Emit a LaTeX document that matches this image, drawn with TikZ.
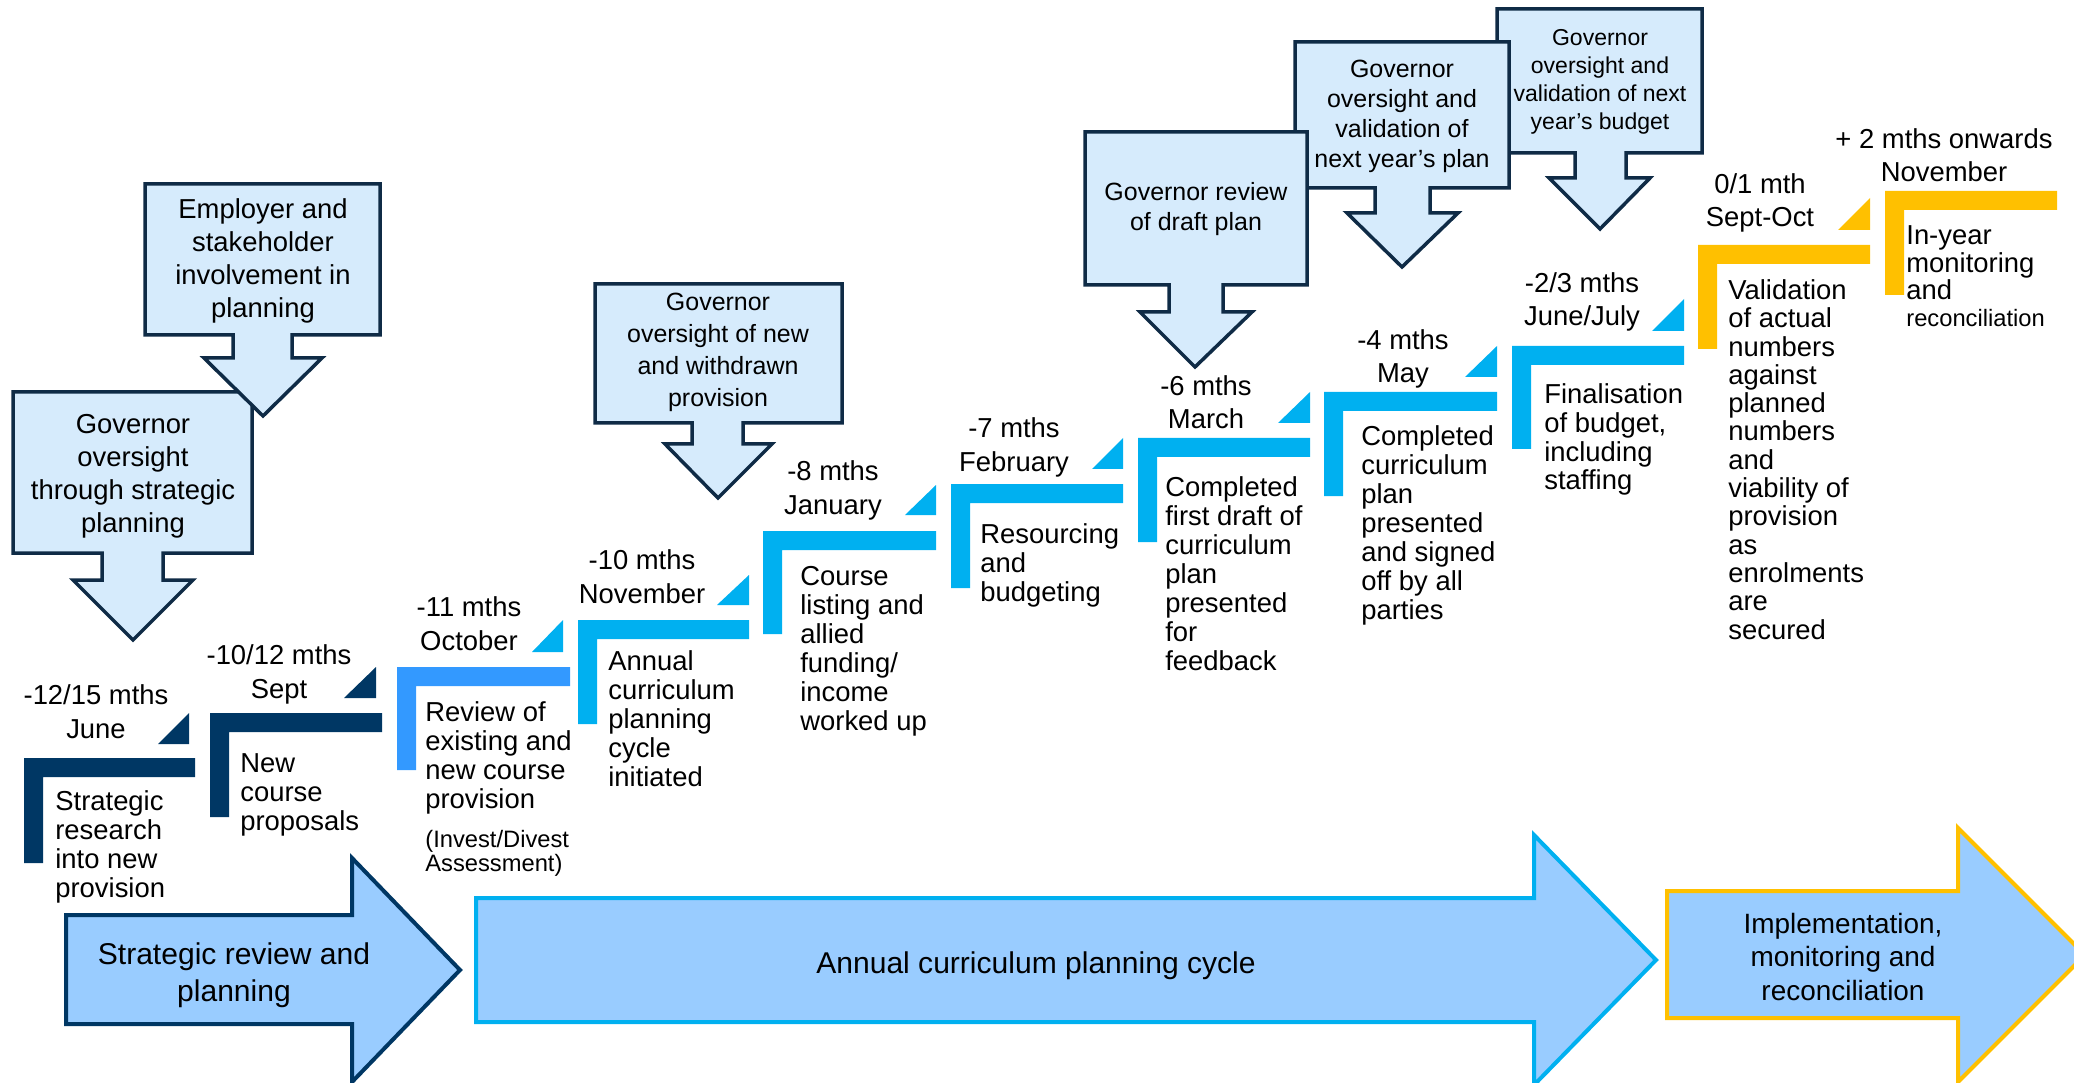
\documentclass[tikz,border=0pt]{standalone}
\usepackage{fontspec}
\setmainfont{Liberation Sans}
\definecolor{navy}{HTML}{003764}
\definecolor{boxline}{HTML}{0F2B46}
\definecolor{boxfill}{HTML}{D6EBFC}
\definecolor{arrowfill}{HTML}{99CCFF}
\definecolor{stepcyan}{HTML}{00B0F0}
\definecolor{stepblue}{HTML}{3399FF}
\definecolor{gold}{HTML}{FFC000}

\begin{document}
\begin{tikzpicture}[x=0.2mm,y=-0.2mm]
        \tikzstyle{govbox} = [fill=boxfill,draw=boxline,line width=0.7mm]
        \tikzstyle{govtext} = [align=center,font=\fontsize{15.6}{18.8}\selectfont]
        \tikzstyle{stage} = [fill=arrowfill,line width=0.8mm]
        \tikzstyle{stagetext} = [align=center,font=\fontsize{17.1}{21}\selectfont]
        % base = baseline of the last line
        \tikzstyle{month} = [align=center,anchor=base,inner sep=0pt,font=\fontsize{15.6}{18.8}\selectfont]
        \tikzstyle{task} = [align=left,anchor=base west,inner sep=0pt,font=\fontsize{15.6}{16.5}\selectfont]

        \useasboundingbox (0,0) rectangle (2074,1083);
        \clip (0,0) rectangle (2074,1083);

        % phases along the bottom
        \draw[stage,draw=navy] (66,915) -- (352,915) -- (352,858) -- (460,970) -- (352,1082) -- (352,1024) -- (66,1024) -- cycle;
        \draw[stage,draw=stepcyan] (476,898) -- (1534,898) -- (1534,835) -- (1656,960) -- (1534,1085) -- (1534,1022) -- (476,1022) -- cycle;
        \draw[stage,draw=gold] (1667,891) -- (1958,891) -- (1958,828) -- (2085,955) -- (1958,1082) -- (1958,1018) -- (1667,1018) -- cycle;

        \node[stagetext] (a1) at (234,975){Strategic review and\\planning};
        \node[stagetext] (a2) at (1036,966){Annual curriculum planning cycle};
        \node[stagetext,font=\fontsize{15.9}{19.3}\selectfont] (a3) at (1843,957){Implementation,\\monitoring and\\reconciliation};

        % governor call-outs
        \draw[govbox] (13,392) -- (252,392) -- (252,553) -- (163,553) -- (163,580) -- (193,580) -- (133,640) -- (73,580) -- (102,580) -- (102,553) -- (13,553) -- cycle;
        \draw[govbox] (145,184) -- (380,184) -- (380,335) -- (292,335) -- (292,358) -- (322,358) -- (263,416) -- (204,358) -- (233,358) -- (233,335) -- (145,335) -- cycle;
        \draw[govbox] (595,284) -- (842,284) -- (842,423) -- (743,423) -- (743,444) -- (772,444) -- (718,498) -- (665,444) -- (692,444) -- (692,423) -- (595,423) -- cycle;
        \draw[govbox] (1497,9) -- (1702,9) -- (1702,153) -- (1626,153) -- (1626,178) -- (1650,178) -- (1600,229) -- (1549,178) -- (1575,178) -- (1575,153) -- (1497,153) -- cycle;
        \draw[govbox] (1295,42) -- (1509,42) -- (1509,188) -- (1430,188) -- (1430,213) -- (1458,213) -- (1402,267) -- (1347,213) -- (1375,213) -- (1375,188) -- (1295,188) -- cycle;
        \draw[govbox] (1085,132) -- (1307,132) -- (1307,285) -- (1223,285) -- (1223,312) -- (1252,312) -- (1195,367) -- (1140,312) -- (1169,312) -- (1169,285) -- (1085,285) -- cycle;

        \node[govtext] (g1) at (133,476){Governor\\oversight\\through strategic\\planning};
        \node[govtext] (g2) at (263,261){Employer and\\stakeholder\\involvement in\\planning};
        \node[govtext,font=\fontsize{14.2}{18.2}\selectfont] (g3) at (718,352){Governor\\oversight of new\\and withdrawn\\provision};
        \node[govtext,font=\fontsize{13.1}{15.9}\selectfont] (g6) at (1600,82){Governor\\oversight and\\validation of next\\year’s budget};
        \node[govtext,font=\fontsize{14.2}{17.1}\selectfont] (g5) at (1402,116){Governor\\oversight and\\validation\ of\\next year’s plan};
        \node[govtext,font=\fontsize{14.2}{17.1}\selectfont] (g4) at (1196,209){Governor review\\of draft plan};

        % steps
        \fill[navy] (24,863) |- (195,758) |- (43,777) |- cycle;
        \fill[navy] (158,744) -- (189,744) -- (189,713) -- cycle;
        \fill[navy] (210,817) |- (382,713) |- (229,732) |- cycle;
        \fill[navy] (344,698) -- (376,698) -- (376,667) -- cycle;
        \fill[stepblue] (397,770) |- (570,667) |- (416,686) |- cycle;
        \fill[stepcyan] (532,652) -- (563,652) -- (563,620) -- cycle;
        \fill[stepcyan] (578,724) |- (749,620) |- (597,639) |- cycle;
        \fill[stepcyan] (717,605) -- (749,605) -- (749,575) -- cycle;
        \fill[stepcyan] (763,634) |- (936,531) |- (782,550) |- cycle;
        \fill[stepcyan] (905,515) -- (936,515) -- (936,485) -- cycle;
        \fill[stepcyan] (951,588) |- (1123,484) |- (970,503) |- cycle;
        \fill[stepcyan] (1092,469) -- (1123,469) -- (1123,438) -- cycle;
        \fill[stepcyan] (1138,542) |- (1310,438) |- (1157,457) |- cycle;
        \fill[stepcyan] (1278,423) -- (1310,423) -- (1310,392) -- cycle;
        \fill[stepcyan] (1324,496) |- (1497,392) |- (1343,411) |- cycle;
        \fill[stepcyan] (1465,377) -- (1497,377) -- (1497,346) -- cycle;
        \fill[stepcyan] (1512,449) |- (1684,346) |- (1531,365) |- cycle;
        \fill[stepcyan] (1652,331) -- (1684,331) -- (1684,299) -- cycle;
        \fill[gold] (1698,349) |- (1870,245) |- (1717,264) |- cycle;
        \fill[gold] (1838,230) -- (1870,230) -- (1870,198) -- cycle;
        \fill[gold] (1885,295) |- (2057,191) |- (1904,210) |- cycle;

        \node[month] (m1) at (96,738){-12/15 mths\\June};
        \node[month] (m2) at (279,698){-10/12 mths\\Sept};
        \node[month] (m3) at (469,650){-11 mths\\October};
        \node[month] (m4) at (642,603){-10 mths\\November};
        \node[month] (m5) at (833,514){-8 mths\\January};
        \node[month] (m6) at (1014,471){-7 mths\\February};
        \node[month] (m7) at (1206,429){-6 mths\\March};
        \node[month] (m8) at (1403,383){-4 mths\\May};
        \node[month] (m9) at (1582,326){-2/3 mths\\June/July};
        \node[month] (m10) at (1760,227){0/1 mth\\Sept-Oct};
        \node[month] (m11) at (1944,182){+ 2 mths onwards\\November};

        \node[task] (s1) at (55,897){Strategic\\research\\into new\\provision};
        \node[task] (s2) at (240,830){New\\course\\proposals};
        \node[task] (s3) at (425,808){Review of\\existing and\\new course\\provision};
        \node[task,font=\fontsize{13.5}{13.1}\selectfont] (s3b) at (425,871){(Invest/Divest\\Assessment)};
        \node[task] (s4) at (608,786){Annual\\curriculum\\planning\\cycle\\initiated};
        \node[task] (s5) at (800,730){Course\\listing and\\allied\\funding/\\income\\worked up};
        \node[task] (s6) at (980,601){Resourcing\\and\\budgeting};
        \node[task] (s7) at (1165,670){Completed\\first draft of\\curriculum\\plan\\presented\\for\\feedback};
        \node[task] (s8) at (1361,619){Completed\\curriculum\\plan\\presented\\and signed\\off by all\\parties};
        \node[task] (s9) at (1544,490){Finalisation\\of budget,\\including\\staffing};
        \node[task,font=\fontsize{15.6}{16.1}\selectfont] (s10) at (1728,639){Validation\\of actual\\numbers\\against\\planned\\numbers\\and\\viability of\\provision\\as\\enrolments\\are\\secured};
        \node[task,font=\fontsize{15.6}{15.6}\selectfont] (s11) at (1906,327){In-year\\monitoring\\and\\{\fontsize{13.5}{15.6}\selectfont reconciliation}};

    \end{tikzpicture}
\end{document}
